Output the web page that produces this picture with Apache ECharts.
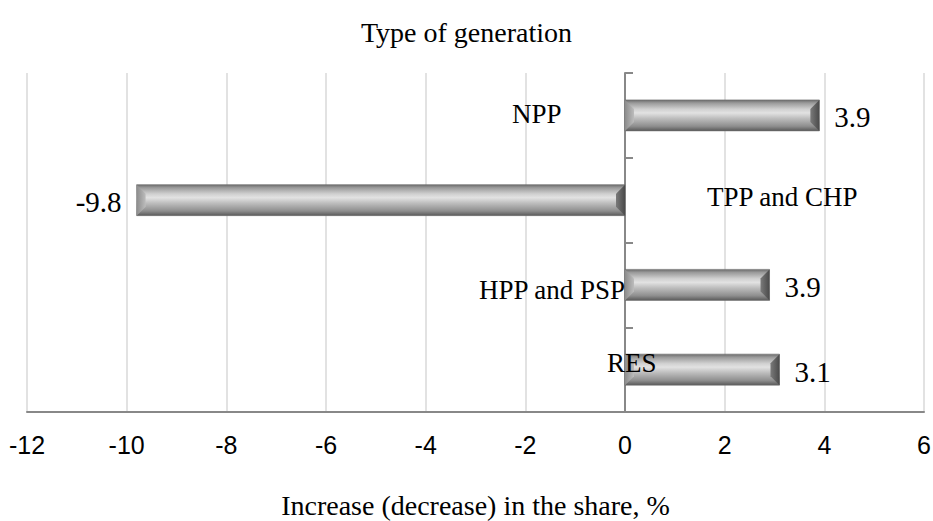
<!DOCTYPE html>
<html><head><meta charset="utf-8">
<script src="https://cdn.jsdelivr.net/npm/echarts@6/dist/echarts.min.js"></script>
<style>html,body{margin:0;padding:0;background:#fff}#c{width:933px;height:521px}</style>
</head><body><div id="c"></div>
<script>
const categories = ['NPP', 'TPP and CHP', 'HPP and PSP', 'RES'];
const values = [3.9, -9.8, 2.9, 3.1];
const valueLabels = ['3.9', '-9.8', '3.9', '3.1'];
const xMin = -12, xMax = 6, xInterval = 2;
const chartTitle = 'Type of generation';
const xAxisTitle = 'Increase (decrease) in the share, %';

// placement of the category names relative to the zero line (style, not data)
const CAT_LABEL_PLACE = [
  {dx: -113, dy: -1, align: 'left'},
  {dx: 82, dy: -3, align: 'left'},
  {dx: 0, dy: 5, align: 'right'},
  {dx: -18, dy: -7, align: 'left'}
];

const SERIF = "'Liberation Serif','Times New Roman',serif";
const NARROW = "'Liberation Sans Narrow','Arial Narrow','Liberation Sans',sans-serif";
const chart = echarts.init(document.getElementById('c'), null, {renderer: 'svg'});

function renderBar(params, api) {
  const v = api.value(0), idx = api.value(1);
  const p0 = api.coord([0, idx]), p1 = api.coord([v, idx]);
  const h = 31, b = 9;
  const xL = Math.min(p0[0], p1[0]), xR = Math.max(p0[0], p1[0]);
  const y0 = p0[1] - h / 2, y1 = p0[1] + h / 2;
  const body = new echarts.graphic.LinearGradient(0, 0, 0, 1, [
    {offset: 0, color: '#6a6a6a'}, {offset: 0.1, color: '#9a9a9a'},
    {offset: 0.3, color: '#d0d0d0'}, {offset: 0.42, color: '#e2e2e2'},
    {offset: 0.6, color: '#bdbdbd'}, {offset: 0.85, color: '#8e8e8e'},
    {offset: 1, color: '#5a5a5a'}]);
  const leftFace = new echarts.graphic.LinearGradient(0, 0, 1, 0, [
    {offset: 0, color: '#8c8c8c'}, {offset: 1, color: '#bcbcbc'}]);
  const rightFace = new echarts.graphic.LinearGradient(0, 0, 1, 0, [
    {offset: 0, color: '#7a7a7a'}, {offset: 1, color: '#4a4a4a'}]);
  const pos = v >= 0;
  const tx = pos ? xR + 15 : xL - 15;
  const cp = CAT_LABEL_PLACE[idx];
  return {
    type: 'group',
    children: [
      {type: 'rect', shape: {x: xL, y: y0, width: xR - xL, height: h},
       style: {fill: body, stroke: '#6e6e6e', lineWidth: 0.6}},
      {type: 'polygon', shape: {points: [[xL, y0], [xL + b, y0 + b], [xL + b, y1 - b], [xL, y1]]},
       style: {fill: leftFace}},
      {type: 'polygon', shape: {points: [[xR, y0], [xR - b, y0 + b], [xR - b, y1 - b], [xR, y1]]},
       style: {fill: rightFace}},
      {type: 'text', x: tx, y: p0[1] + 2,
       style: {text: valueLabels[idx], font: '29px ' + SERIF, fill: '#000',
               align: pos ? 'left' : 'right', verticalAlign: 'middle'}},
      {type: 'text', x: p0[0] + cp.dx, y: p0[1] + cp.dy,
       style: {text: categories[idx], font: '27px ' + SERIF, fill: '#000',
               align: cp.align, verticalAlign: 'middle'}}
    ]
  };
}

chart.setOption({
  animation: false,
  backgroundColor: '#fff',
  title: {text: chartTitle, left: 'center', top: 13, itemGap: 0,
    textStyle: {fontFamily: SERIF, fontSize: 28, fontWeight: 'normal', color: '#000'}},
  grid: {left: 27, right: 9, top: 73, bottom: 109, outerBoundsMode: 'none', containLabel: false},
  xAxis: {
    type: 'value', min: xMin, max: xMax, interval: xInterval,
    name: xAxisTitle, nameLocation: 'middle', nameGap: 79,
    nameTextStyle: {fontFamily: SERIF, fontSize: 28, color: '#000'},
    axisLine: {show: true, onZero: false, lineStyle: {color: '#888', width: 2}},
    axisTick: {show: false},
    axisLabel: {fontFamily: NARROW, fontSize: 25, color: '#000', margin: 20},
    splitLine: {show: true, lineStyle: {color: '#d9d9d9', width: 1.5}}
  },
  yAxis: {
    type: 'category', data: categories, inverse: true,
    axisLine: {show: true, onZero: true, lineStyle: {color: '#888', width: 2}},
    axisTick: {show: true, inside: true, length: 8, lineStyle: {color: '#888', width: 2}},
    splitLine: {show: false},
    axisLabel: {show: false}
  },
  series: [{
    type: 'custom', renderItem: renderBar,
    encode: {x: 0, y: 1},
    data: values.map((v, i) => [v, i]),
    z: 3
  }]
});
</script></body></html>
